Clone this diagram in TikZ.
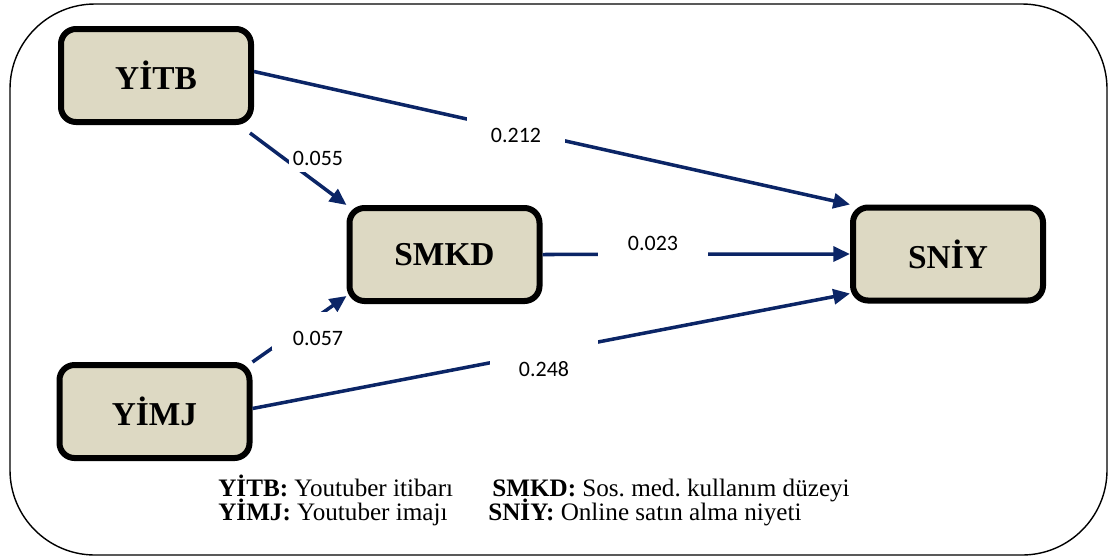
\documentclass[tikz,border=0pt]{standalone}
\usepackage{fontspec}
\setmainfont{Liberation Serif}
\newfontfamily\lblfont{Carlito}
\usetikzlibrary{arrows.meta}
\definecolor{boxtan}{HTML}{DDD9C3}
\definecolor{pathnavy}{HTML}{0B2566}
\frenchspacing
\begin{document}
\begin{tikzpicture}[
  var/.style={draw=black,fill=boxtan,line width=0.12cm,rounded corners=0.3cm,
    minimum width=3.8cm,minimum height=1.86cm,font=\fontsize{19}{22}\selectfont\bfseries},
  path/.style={draw=pathnavy,line width=2pt,-{Triangle[length=9.5pt,width=8.5pt]}},
  coef/.style={fill=white,inner sep=0pt,font=\fontsize{12.5}{14}\selectfont\lblfont},
  legend/.style={anchor=base west,inner sep=0pt,font=\fontsize{14.3}{16}\selectfont}]
\useasboundingbox (0,0) rectangle (22.18,-11.16);
\draw[line width=0.8pt,rounded corners=1.7cm] (0.2,-0.08) rectangle (22.14,-11.1);

\node[var] (yitb) at (3.12,-1.51) {YİTB};
\node[var] (smkd) at (8.89,-5.09) {SMKD};
\node[var] (sniy) at (18.96,-5.08) {SNİY};
\node[var] (yimj) at (3.09,-8.23) {YİMJ};

\draw[path] ([yshift=0.08cm]yitb.east) -- (sniy.north west);
\draw[path] ([shift={(-0.08,-0.16)}]yitb.south east) -- (smkd.north west);
\draw[path] (yimj.north east) -- ([yshift=0.16cm]smkd.south west);
\draw[path] (smkd.east) -- (sniy.west);
\draw[path] ([yshift=0.06cm]yimj.east) -- ([yshift=0.2cm]sniy.south west);

\node[coef,minimum width=1.96cm,text height=0.51cm,text depth=0.09cm] (c212) at (10.32,-2.64) {0.212};
\node[coef,minimum width=1.16cm,minimum height=0.56cm] (c055) at (6.36,-3.16) {0.055};
\node[coef,minimum width=1.84cm,text height=0.67cm,text depth=0.09cm] (c057) at (6.36,-6.62) {0.057};
\node[coef,minimum width=2.2cm,text height=0.37cm,text depth=0.15cm] (c023) at (13.06,-4.9) {0.023\hspace{0.48cm}};
\node[coef,minimum width=2.16cm,text height=0.81cm,text depth=0.05cm] (c248) at (10.88,-7.15) {0.248\hspace{0.32cm}};

\node[legend] (leg1) at (4.36,-9.92) {\textbf{YİTB:} Youtuber itibarı};
\node[legend] (leg2) at (9.84,-9.92) {\textbf{SMKD:} Sos. med. kullanım düzeyi};
\node[legend] (leg3) at (4.36,-10.4) {\textbf{YİMJ:} Youtuber imajı};
\node[legend] (leg4) at (9.76,-10.4) {\textbf{SNİY:} Online satın alma niyeti};
\end{tikzpicture}
\end{document}
